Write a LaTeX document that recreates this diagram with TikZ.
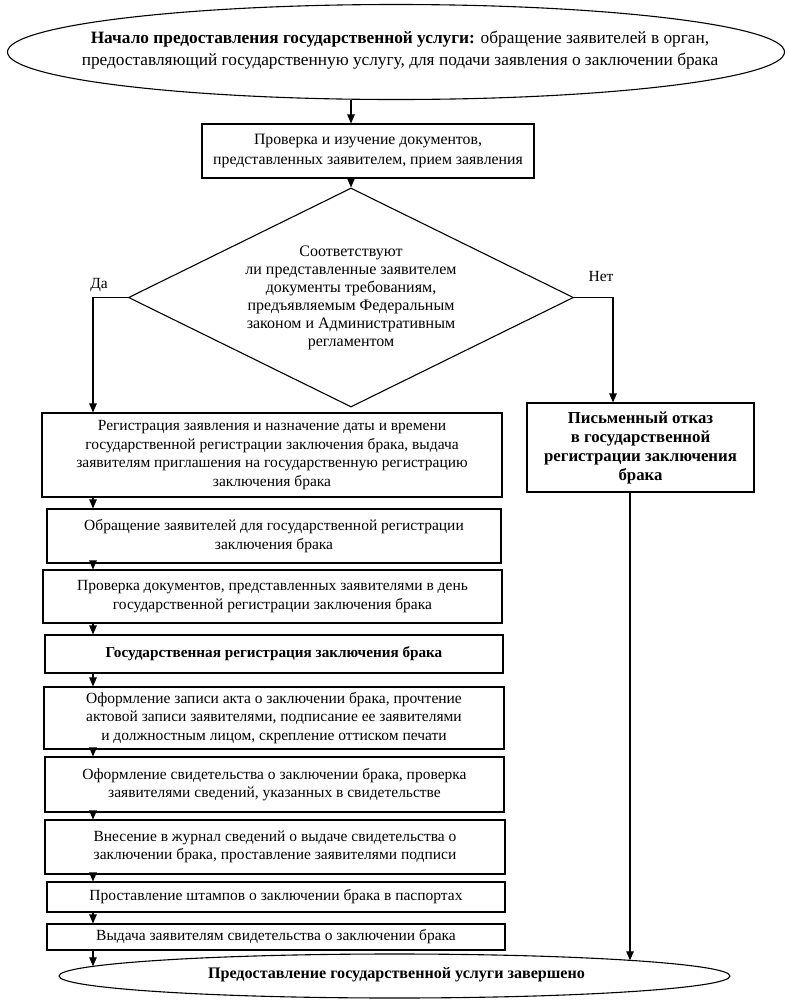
\documentclass[tikz,border=0pt]{standalone}
\usepackage{fontspec}
\setmainfont{Liberation Serif}
\usetikzlibrary{shapes.geometric,arrows.meta,calc}
\begin{document}
\begin{tikzpicture}[x=1pt,y=-1pt,
  every node/.style={font=\fontsize{15.5}{18.5}\selectfont, align=center, inner sep=0pt},
  box/.style={draw, line width=1.1pt, rectangle},
  oval/.style={draw, line width=1.1pt, ellipse},
  arr/.style={line width=1.1pt, -{Triangle[length=9pt,width=7.5pt]}},
  ln/.style={line width=1.1pt}]
\useasboundingbox (0,0) rectangle (790,1002);
% start
\node[oval, minimum width=777pt, minimum height=95pt] (top) at (396,52) {};
\node[font=\fontsize{17.3}{22}\selectfont] (toptxt) at (400,50)
  {\textbf{Начало предоставления государственной услуги:} обращение заявителей в орган,\\
   предоставляющий государственную услугу, для подачи заявления о заключении брака};
% check
\node[box, minimum width=332pt, minimum height=54pt, font=\fontsize{15.8}{19.5}\selectfont] (b2) at (368,151)
  {Проверка и изучение документов,\\представленных заявителем, прием заявления};
% decision
\node[diamond, draw, line width=1.1pt, minimum width=445pt, minimum height=219pt] (dia) at (351,297.5) {};
\node[font=\fontsize{16}{18}\selectfont] (diatxt) at (351,298)
  {Соответствуют\\ли представленные заявителем\\документы требованиям,\\предъявляемым Федеральным\\законом и Административным\\регламентом};
\node (yes) at (99,285) {Да};
\node (no) at (601,276) {Нет};
% left column
\node[box, minimum width=460pt, minimum height=84pt] (b3) at (272,455)
  {Регистрация заявления и назначение даты и времени\\государственной регистрации заключения брака, выдача\\заявителям приглашения на государственную регистрацию\\заключения брака};
\node[box, minimum width=454pt, minimum height=54pt] (b4) at (274,536)
  {Обращение заявителей для государственной регистрации\\заключения брака};
\node[box, minimum width=459pt, minimum height=53pt] (b5) at (272.5,596.5)
  {Проверка документов, представленных заявителями в день\\государственной регистрации заключения брака};
\node[box, minimum width=458pt, minimum height=38pt, font=\fontsize{15.2}{18}\selectfont\bfseries] (b6) at (274,654)
  {Государственная регистрация заключения брака};
\node[box, minimum width=460pt, minimum height=62pt] (b7) at (274,718)
  {Оформление записи акта о заключении брака, прочтение\\актовой записи заявителями, подписание ее заявителями\\и должностным лицом, скрепление оттиском печати};
\node[box, minimum width=459pt, minimum height=55pt] (b8) at (274.5,784.5)
  {Оформление свидетельства о заключении брака, проверка\\заявителями сведений, указанных в свидетельстве};
\node[box, minimum width=460pt, minimum height=54pt] (b9) at (275,847)
  {Внесение в журнал сведений о выдаче свидетельства о\\заключении брака, проставление заявителями подписи};
\node[box, minimum width=458pt, minimum height=30pt] (b10) at (276,897)
  {Проставление штампов о заключении брака в паспортах};
\node[box, minimum width=458pt, minimum height=26pt] (b11) at (276,937)
  {Выдача заявителям свидетельства о заключении брака};
% refusal
\node[box, minimum width=227pt, minimum height=89pt, font=\fontsize{16.8}{19}\selectfont\bfseries] (ref) at (640.5,447.5)
  {Письменный отказ\\в государственной\\регистрации заключения\\брака};
% end
\node[oval, minimum width=671pt, minimum height=44pt] (end) at (394.5,976) {};
\node[font=\fontsize{16.1}{18.5}\selectfont\bfseries] (endtxt) at (396.5,975)
  {Предоставление государственной услуги завершено};
% helper coordinates
\coordinate (ax) at (93,0);
\coordinate (nx) at (613,0);
\coordinate (rx) at (630,0);
\coordinate (tx) at (351,0);
\coordinate (e1) at (93,966.3);
\coordinate (e2) at (630,960.3);
% connectors
\draw[arr] (top.south -| tx) -- (b2.north -| tx);
\draw[arr] (b2.south -| tx) -- (dia.north);
\draw[arr] (dia.west) -- (dia.west -| ax) -- (b3.north -| ax);
\draw[arr] (dia.east) -- (dia.east -| nx) -- (ref.north -| nx);
\draw[arr] (b3.south -| ax) -- (b4.north -| ax);
\draw[arr] (b4.south -| ax) -- (b5.north -| ax);
\draw[arr] (b5.south -| ax) -- (b6.north -| ax);
\draw[arr] (b6.south -| ax) -- (b7.north -| ax);
\draw[arr] (b7.south -| ax) -- (b8.north -| ax);
\draw[arr] (b8.south -| ax) -- (b9.north -| ax);
\draw[arr] (b9.south -| ax) -- (b10.north -| ax);
\draw[arr] (b10.south -| ax) -- (b11.north -| ax);
\draw[arr] (b11.south -| ax) -- (e1);
\draw[arr] (ref.south -| rx) -- (e2);
\end{tikzpicture}
\end{document}
